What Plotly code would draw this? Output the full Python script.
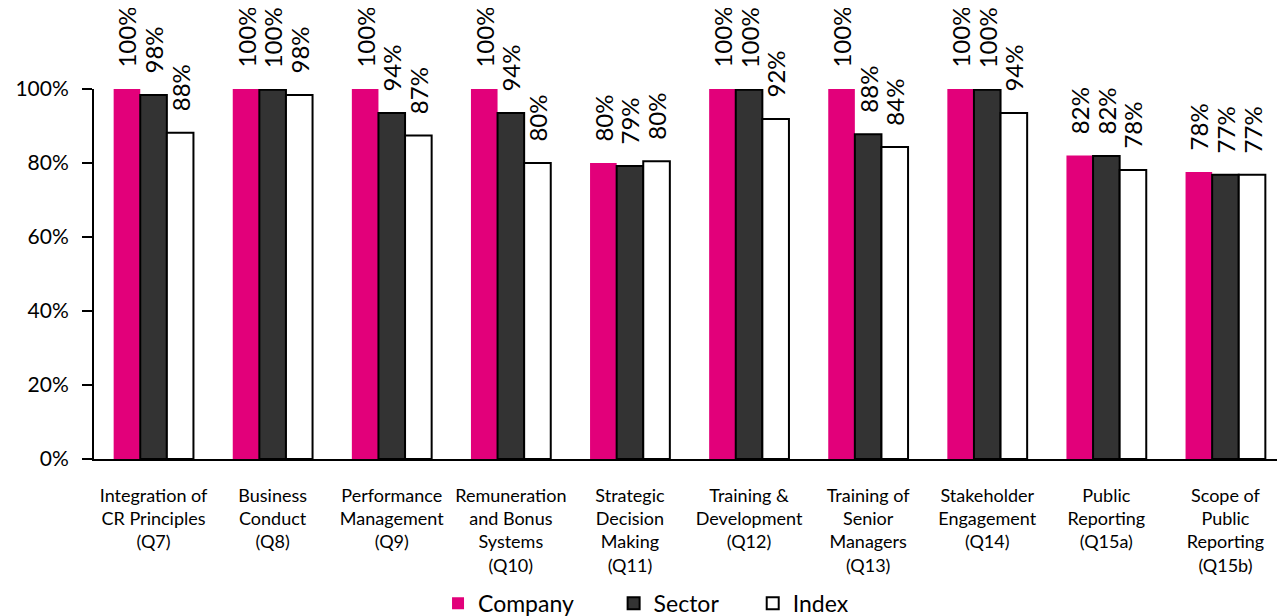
import plotly.graph_objects as go

categories = [
    "Integration of<br>CR Principles<br>(Q7)",
    "Business<br>Conduct<br>(Q8)",
    "Performance<br>Management<br>(Q9)",
    "Remuneration<br>and Bonus<br>Systems<br>(Q10)",
    "Strategic<br>Decision<br>Making<br>(Q11)",
    "Training &<br>Development<br>(Q12)",
    "Training of<br>Senior<br>Managers<br>(Q13)",
    "Stakeholder<br>Engagement<br>(Q14)",
    "Public<br>Reporting<br>(Q15a)",
    "Scope of<br>Public<br>Reporting<br>(Q15b)",
]
company = [1.00, 1.00, 1.00, 1.00, 0.80, 1.00, 1.00, 1.00, 0.82, 0.776]
sector = [0.984, 0.998, 0.935, 0.935, 0.792, 0.998, 0.878, 0.998, 0.819, 0.768]
index_ = [0.882, 0.984, 0.874, 0.80, 0.805, 0.919, 0.843, 0.935, 0.781, 0.768]

FONT = "Lato, Carlito, Calibri, sans-serif"
NB = "\u00a0"

def labels(vals):
    return [NB * 3 + f"{round(v*100):.0f}%" for v in vals]

fig = go.Figure()
series = [
    ("Company" + NB * 6, company, "#E2007A", "#E2007A", 0),
    ("Sector" + NB * 5, sector, "#333333", "#000000", 2),
    ("Index", index_, "#FFFFFF", "#000000", 2),
]
for name, vals, fill, line, lw in series:
    fig.add_trace(go.Bar(
        name=name, x=categories, y=vals,
        marker=dict(color=fill, line=dict(color=line, width=lw)),
        text=labels(vals), textposition="outside", textangle=-90,
        textfont=dict(size=24, color="#000000", family=FONT),
        constraintext="none", cliponaxis=False,
    ))

fig.update_layout(
    width=1277, height=608,
    margin=dict(l=86, r=0, t=81, b=157, autoexpand=False),
    paper_bgcolor="white", plot_bgcolor="white",
    barmode="group", bargap=0.33, bargroupgap=0,
    font=dict(family=FONT, color="#000000"),
    showlegend=True,
    legend=dict(orientation="h", x=0.4635, xanchor="center", y=-0.39, yanchor="middle",
                font=dict(size=23, family=FONT), itemwidth=30, traceorder="normal"),
    xaxis=dict(
        automargin=False,
        showline=True, linecolor="#000000", linewidth=2,
        ticks="", showgrid=False,
        tickfont=dict(size=18, family=FONT, color="#000000"),
        ticklabelstandoff=19,
    ),
    yaxis=dict(
        automargin=False,
        range=[0, 1.0], tickformat=".0%", dtick=0.2,
        showline=True, linecolor="#000000", linewidth=2,
        ticks="outside", ticklen=10, tickwidth=2, tickcolor="#000000",
        showgrid=False, zeroline=False,
        tickfont=dict(size=21, family=FONT, color="#000000"),
        ticklabelstandoff=9,
    ),
)

fig.write_html("out.html")
